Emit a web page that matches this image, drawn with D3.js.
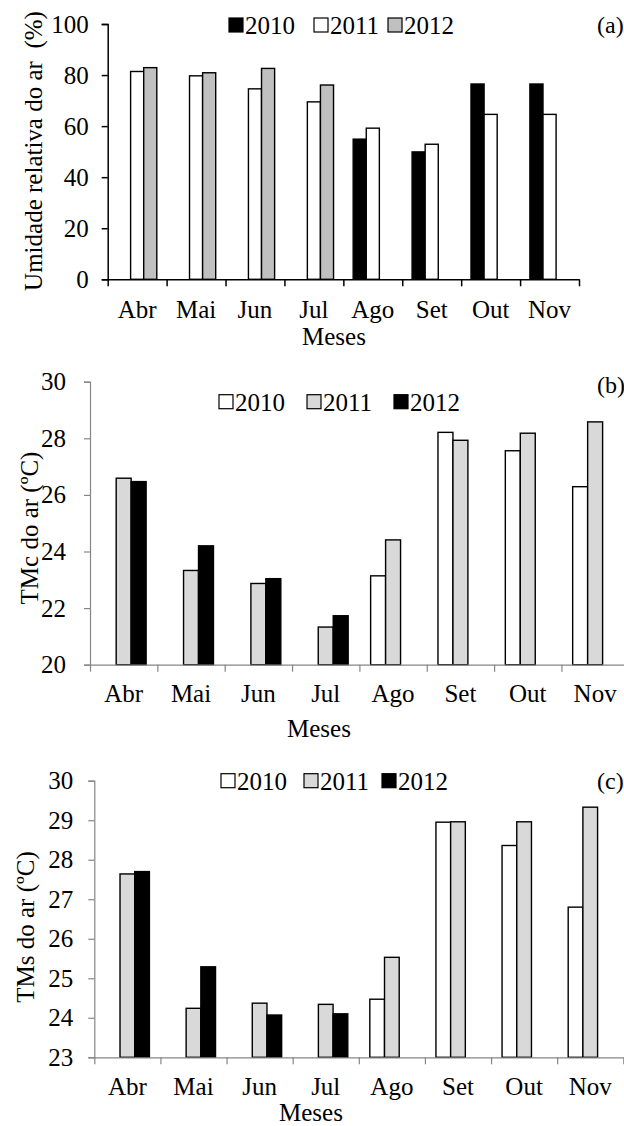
<!DOCTYPE html>
<html>
<head>
<meta charset="utf-8">
<script src="https://cdn.jsdelivr.net/npm/d3@7"></script>
<style>
  body { margin: 0; background: #fff; }
  svg { display: block; }
  text { font-family: "Liberation Serif", "Times New Roman", serif; fill: #000; }
</style>
</head>
<body>
<svg width="624" height="1126"></svg>
<script>
// ---- data ----
var months = ['Abr', 'Mai', 'Jun', 'Jul', 'Ago', 'Set', 'Out', 'Nov'];
var years = ['2010', '2011', '2012'];

// (a) Umidade relativa do ar (%)
var ur2010 = [null, null, null, null, 54.9, 49.9, 76.5, 76.5];
var ur2011 = [81.4, 79.7, 74.6, 69.5, 59.2, 52.9, 64.6, 64.6];
var ur2012 = [82.9, 80.9, 82.6, 76.1, null, null, null, null];
var urTicks = [0, 20, 40, 60, 80, 100];

// (b) TMc do ar (ºC)
var tmc2010 = [null, null, null, null, 23.14, 28.21, 27.56, 26.29];
var tmc2011 = [26.59, 23.33, 22.87, 21.33, 24.41, 27.93, 28.18, 28.58];
var tmc2012 = [26.47, 24.2, 23.04, 21.73, null, null, null, null];
var tmcTicks = [20, 22, 24, 26, 28, 30];

// (c) TMs do ar (ºC)
var tms2010 = [null, null, null, null, 24.47, 28.95, 28.36, 26.8];
var tms2011 = [27.64, 24.24, 24.37, 24.34, 25.53, 28.96, 28.96, 29.33];
var tms2012 = [27.70, 25.29, 24.07, 24.10, null, null, null, null];
var tmsTicks = [23, 24, 25, 26, 27, 28, 29, 30];

var FONT = '"Liberation Serif", "Times New Roman", serif';
var svg = d3.select('svg');

let drawPanel = p => {
    var g = svg.append('g');

    var x = d3.scaleBand()
        .domain(months)
        .range([p.x0, p.x1])
        .paddingInner(0)
        .paddingOuter(0);

    // Excel-style clusters: 3 slots per month, gap of 1.5 bar widths
    var x1 = d3.scaleBand()
        .domain(years)
        .range([0, x.bandwidth()])
        .paddingInner(0)
        .paddingOuter(0.75);

    var y = d3.scaleLinear()
        .domain([p.ticks[0], p.ticks[p.ticks.length - 1]])
        .range([p.yBottom, p.yTop]);

    var color = d3.scaleOrdinal().domain(years).range(p.colors);

    // bars
    var rows = [];
    months.forEach(function(m, i) {
        years.forEach(function(yr, j) {
            var v = p.series[j][i];
            if (v != null) rows.push({month: m, year: yr, value: v});
        });
    });

    g.append('g')
        .selectAll('rect')
        .data(rows)
        .enter()
        .append('rect')
            .attr('x', function(d) { return x(d.month) + x1(d.year); })
            .attr('y', function(d) { return y(d.value); })
            .attr('width', x1.bandwidth())
            .attr('height', function(d) { return y(p.ticks[0]) - y(d.value); })
            .attr('fill', function(d) { return color(d.year); })
            .attr('stroke', '#000')
            .attr('stroke-width', 1.4);

    // y axis
    var yAxis = g.append('g')
        .attr('transform', 'translate(' + p.x0 + ',0)')
        .call(d3.axisLeft(y).tickValues(p.ticks).tickFormat(d3.format('d')).tickSize(6).tickPadding(p.yPad))
        .attr('font-family', FONT)
        .attr('font-size', 25);
    yAxis.selectAll('path, line').attr('stroke', p.axisColor).attr('stroke-width', p.axisWidth);
    yAxis.selectAll('text').attr('fill', '#000');

    // x axis line with ticks at category boundaries
    var edge = d3.scaleLinear().domain([0, months.length]).range([p.x0, p.x1]);
    var xLine = g.append('g')
        .attr('transform', 'translate(0,' + p.yBottom + ')')
        .call(d3.axisBottom(edge).tickValues(d3.range(months.length + 1)).tickSize(7).tickSizeOuter(0).tickFormat(''));
    xLine.selectAll('path, line').attr('stroke', p.axisColor).attr('stroke-width', p.axisWidth);

    // month labels
    var xLab = g.append('g')
        .attr('transform', 'translate(0,' + p.yBottom + ')')
        .call(d3.axisBottom(x).tickSize(0).tickPadding(p.xPad))
        .attr('font-family', FONT)
        .attr('font-size', 25);
    xLab.select('.domain').remove();
    xLab.selectAll('text').attr('fill', '#000');

    // axis titles
    g.append('text')
        .attr('x', p.xTitle[0])
        .attr('y', p.xTitle[1])
        .attr('text-anchor', 'middle')
        .style('font-size', '25px')
        .text('Meses');

    g.append('text')
        .attr('transform', 'translate(' + p.yTitle[0] + ',' + p.yTitle[1] + ') rotate(-90)')
        .attr('text-anchor', 'middle')
        .style('font-size', '25px')
        .style('white-space', 'pre')
        .text(p.yLabel);

    // legend
    var leg = g.append('g');
    years.forEach(function(yr, j) {
        var lx = p.legendX[j];
        leg.append('rect')
            .attr('x', lx)
            .attr('y', p.legendY - 7)
            .attr('width', 14)
            .attr('height', 14)
            .attr('fill', color(yr))
            .attr('stroke', '#000')
            .attr('stroke-width', 1.2);
        leg.append('text')
            .attr('x', lx + 16)
            .attr('y', p.legendY + 9)
            .style('font-size', '25px')
            .text(yr);
    });

    g.append('text')
        .attr('x', 597)
        .attr('y', p.tagY)
        .style('font-size', '24px')
        .text(p.tag);
};

drawPanel({
    series: [ur2010, ur2011, ur2012], ticks: urTicks,
    colors: ['#000000', '#ffffff', '#c0c0c0'],
    x0: 107.7, x1: 579, yTop: 24, yBottom: 279.3,
    axisColor: '#000', axisWidth: 1.5, yPad: 13, xPad: 21,
    xTitle: [334, 345], yTitle: [42, 151], yLabel: 'Umidade relativa do ar  (%)',
    legendX: [229, 314, 388], legendY: 25, tag: '(a)', tagY: 33
});

drawPanel({
    series: [tmc2010, tmc2011, tmc2012], ticks: tmcTicks,
    colors: ['#ffffff', '#d9d9d9', '#000000'],
    x0: 90, x1: 628.8, yTop: 381.7, yBottom: 664.7,
    axisColor: '#868686', axisWidth: 1.2, yPad: 18, xPad: 20,
    xTitle: [319, 737], yTitle: [38, 528], yLabel: 'TMc do ar (ºC)',
    legendX: [219, 307, 394], legendY: 401.7, tag: '(b)', tagY: 393
});

drawPanel({
    series: [tms2010, tms2011, tms2012], ticks: tmsTicks,
    colors: ['#ffffff', '#d9d9d9', '#000000'],
    x0: 94.3, x1: 623.3, yTop: 780.7, yBottom: 1057.3,
    axisColor: '#868686', axisWidth: 1.2, yPad: 15, xPad: 20,
    xTitle: [311, 1121], yTitle: [34, 927], yLabel: 'TMs do ar (ºC)',
    legendX: [221, 304, 382], legendY: 780.7, tag: '(c)', tagY: 789
});
</script>
</body>
</html>
